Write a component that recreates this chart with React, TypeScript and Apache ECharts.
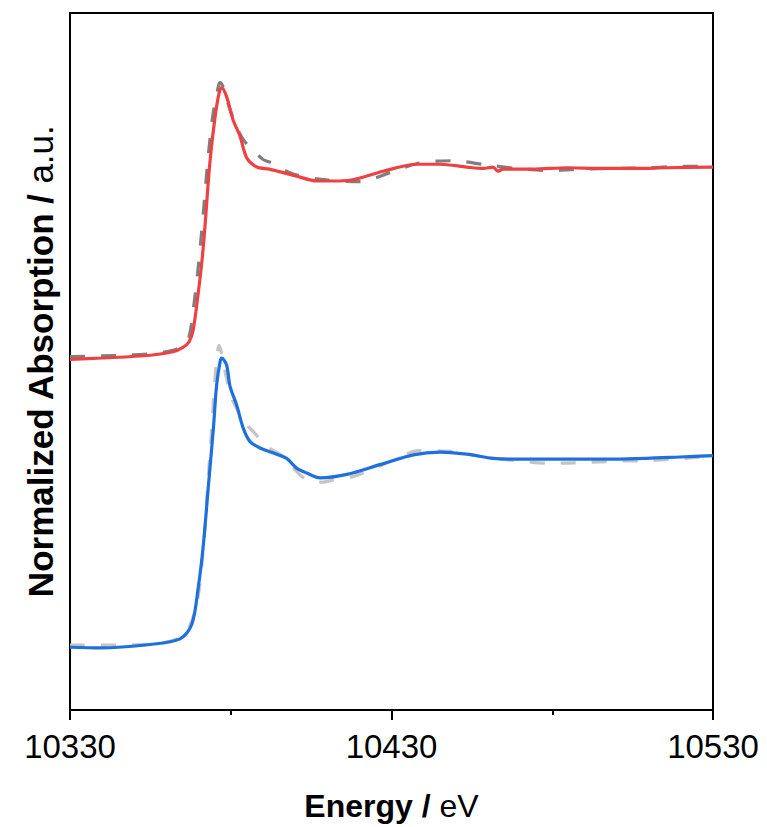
import React, { useEffect, useRef } from "react";
import * as echarts from "echarts";

// Energy (eV), normalized absorption (arbitrary offset units)
const sampleTop: [number, number][] = [
  [10330, 50.3], [10340, 50.5], [10355, 50.9], [10362, 51.4], [10365, 52.0], [10367, 52.8],
  [10368.3, 54.5], [10369.8, 59.5], [10371.1, 64.7], [10372, 69.5], [10373.5, 78.5],
  [10375.1, 85.0], [10376.5, 88.8], [10377.2, 89.3], [10378.7, 88.0], [10380.7, 84.7],
  [10382.9, 82.3], [10385, 79.2], [10388.1, 77.9], [10392, 77.6], [10396.3, 77.1],
  [10400.5, 76.6], [10406.7, 75.9], [10412, 75.9], [10417.1, 76.0], [10427.4, 77.3],
  [10437.8, 78.3], [10445.1, 78.3], [10453.4, 77.9], [10458.5, 77.7], [10461.6, 77.9],
  [10463.1, 77.3], [10464.7, 77.6], [10474, 77.6], [10484.6, 77.8], [10494.9, 77.7],
  [10505.1, 77.7], [10515.7, 77.8], [10530, 77.9],
];

const refTop: [number, number][] = [
  [10330, 50.7], [10340, 50.8], [10355, 51.1], [10362, 51.6], [10365, 52.3], [10367, 53.5],
  [10368.5, 58.0], [10370, 64.0], [10371.5, 71.5], [10373, 79.5], [10374.5, 85.5],
  [10376.2, 89.6], [10376.7, 90.0], [10378, 89.0], [10379.8, 86.1], [10383.8, 81.9],
  [10390, 79.0], [10392.2, 78.6], [10399.4, 76.9], [10408.7, 76.1], [10420.2, 75.8],
  [10429.5, 77.1], [10438.9, 78.5], [10449.1, 78.8], [10459.6, 78.2], [10468.9, 77.7],
  [10479.3, 77.4], [10489.6, 77.6], [10500.1, 77.7], [10510.4, 77.8], [10520.7, 78.0],
  [10530, 78.0],
];

const sampleBottom: [number, number][] = [
  [10330, 9.0], [10339.3, 8.9], [10354.9, 9.4], [10364.2, 10.2], [10367.9, 12.3],
  [10369.9, 17.6], [10371.5, 23.8], [10373.0, 31.9], [10374.6, 40.4], [10375.6, 46.6],
  [10376.7, 50.0], [10377.2, 50.5], [10378.7, 49.5], [10379.8, 46.4], [10381.8, 43.8],
  [10383.9, 40.4], [10386.0, 38.5], [10389.1, 37.6], [10394.3, 36.7], [10397.4, 36.1],
  [10400.5, 34.7], [10403.6, 34.0], [10407.8, 33.3], [10416.1, 33.8], [10426.4, 35.2],
  [10436.8, 36.6], [10445.1, 37.0], [10453.4, 36.7], [10461.7, 36.1], [10467.9, 36.0],
  [10478.3, 36.0], [10488.6, 36.0], [10499.0, 36.0], [10509.4, 36.1], [10519.7, 36.3],
  [10530, 36.5],
];

const refBottom: [number, number][] = [
  [10330, 9.3], [10354.9, 9.4], [10364.2, 10.4], [10367.3, 12.1], [10369.8, 16.1],
  [10371.5, 23.3], [10373.0, 33.3], [10374.1, 40.4], [10375.1, 47.6], [10376.4, 52.3],
  [10378.5, 48.0], [10380.7, 44.3], [10385.0, 40.9], [10386.9, 40.0], [10391.2, 37.8],
  [10396.3, 36.4], [10400.5, 34.2], [10404.6, 32.8], [10408.8, 32.7], [10411.8, 33.0],
  [10418.1, 33.5], [10426.4, 35.0], [10438.9, 37.2], [10448.2, 37.1], [10457.5, 36.4],
  [10467.9, 35.8], [10479.3, 35.4], [10489.7, 35.5], [10500.0, 35.7], [10510.4, 35.8],
  [10520.8, 36.1], [10530, 36.4],
];

const xMin = 10330;
const xMax = 10530;
const xStep = 100;

export default function App() {
  const ref = useRef<HTMLDivElement>(null);
  useEffect(() => {
    if (!ref.current) return;
    const chart = echarts.init(ref.current, undefined, { renderer: "svg" });
    const font = "Liberation Sans, Arial, sans-serif";
    const lineSeries = (data: [number, number][], color: string, dashed: boolean) => ({
      type: "line",
      data,
      showSymbol: false,
      smooth: 0.3,
      lineStyle: { color, width: 3.2, type: dashed ? [15, 16] : "solid" },
      z: dashed ? 2 : 3,
    });
    chart.setOption({
      animation: false,
      grid: {
        left: 70, top: 13, right: 54, bottom: 114,
        show: true, borderColor: "#000", borderWidth: 2,
      },
      xAxis: {
        type: "value",
        min: xMin, max: xMax, interval: xStep,
        axisLine: { show: true, lineStyle: { color: "#000", width: 2 } },
        axisTick: { show: true, length: 10, lineStyle: { color: "#000", width: 2 } },
        minorTick: { show: true, splitNumber: 2, length: 5, lineStyle: { color: "#000", width: 2 } },
        splitLine: { show: false },
        axisLabel: {
          color: "#000", fontSize: 33, fontFamily: font, margin: 20,
          formatter: (v: number) => String(v),
        },
        name: "{b|Energy / }{n|eV}",
        nameLocation: "middle",
        nameGap: 80,
        nameTextStyle: {
          rich: {
            b: { fontWeight: "bold", fontSize: 32, fontFamily: font, color: "#000" },
            n: { fontSize: 32, fontFamily: font, color: "#000" },
          },
        },
      },
      yAxis: {
        type: "value",
        min: 0, max: 100,
        axisLine: { show: false },
        axisTick: { show: false },
        axisLabel: { show: false },
        splitLine: { show: false },
        name: "{b|Normalized Absorption / }{n|a.u.}",
        nameLocation: "middle",
        nameGap: 12,
        nameTextStyle: {
          rich: {
            b: { fontWeight: "bold", fontSize: 35, fontFamily: font, color: "#000" },
            n: { fontSize: 35, fontFamily: font, color: "#000" },
          },
        },
      },
      series: [
        lineSeries(refTop, "#7f7f7f", true),
        lineSeries(refBottom, "#c4c4c4", true),
        lineSeries(sampleTop, "#ee4242", false),
        lineSeries(sampleBottom, "#1f70dd", false),
      ],
    });
    return () => chart.dispose();
  }, []);
  return <div ref={ref} style={{ width: 767, height: 827, position: "absolute", left: 0, top: 0 }} />;
}
